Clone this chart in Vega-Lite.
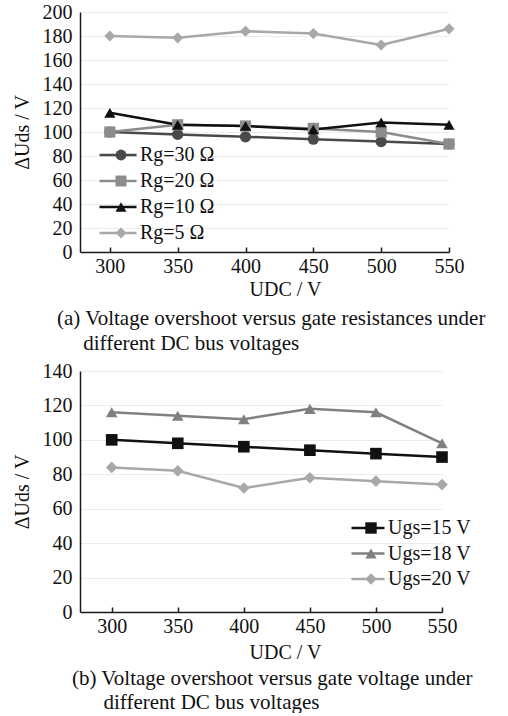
{
  "$schema": "https://vega.github.io/schema/vega-lite/v6.json",
  "background": "#ffffff",
  "padding": {"left": 12, "top": 2, "right": 0, "bottom": 0},
  "datasets": {
    "gateResistance": [
      {"series": "Rg=30 Ω", "Udc": 300, "dU": 100},
      {"series": "Rg=30 Ω", "Udc": 350, "dU": 98},
      {"series": "Rg=30 Ω", "Udc": 400, "dU": 96},
      {"series": "Rg=30 Ω", "Udc": 450, "dU": 94},
      {"series": "Rg=30 Ω", "Udc": 500, "dU": 92},
      {"series": "Rg=30 Ω", "Udc": 550, "dU": 90},
      {"series": "Rg=20 Ω", "Udc": 300, "dU": 100},
      {"series": "Rg=20 Ω", "Udc": 350, "dU": 106},
      {"series": "Rg=20 Ω", "Udc": 400, "dU": 105},
      {"series": "Rg=20 Ω", "Udc": 450, "dU": 103},
      {"series": "Rg=20 Ω", "Udc": 500, "dU": 100},
      {"series": "Rg=20 Ω", "Udc": 550, "dU": 90},
      {"series": "Rg=10 Ω", "Udc": 300, "dU": 116},
      {"series": "Rg=10 Ω", "Udc": 350, "dU": 106},
      {"series": "Rg=10 Ω", "Udc": 400, "dU": 105},
      {"series": "Rg=10 Ω", "Udc": 450, "dU": 102},
      {"series": "Rg=10 Ω", "Udc": 500, "dU": 108},
      {"series": "Rg=10 Ω", "Udc": 550, "dU": 106},
      {"series": "Rg=5 Ω", "Udc": 300, "dU": 180},
      {"series": "Rg=5 Ω", "Udc": 350, "dU": 178.5},
      {"series": "Rg=5 Ω", "Udc": 400, "dU": 184},
      {"series": "Rg=5 Ω", "Udc": 450, "dU": 182},
      {"series": "Rg=5 Ω", "Udc": 500, "dU": 172.5},
      {"series": "Rg=5 Ω", "Udc": 550, "dU": 186}
    ],
    "gateVoltage": [
      {"series": "Ugs=15 V", "Udc": 300, "dU": 100},
      {"series": "Ugs=15 V", "Udc": 350, "dU": 98},
      {"series": "Ugs=15 V", "Udc": 400, "dU": 96},
      {"series": "Ugs=15 V", "Udc": 450, "dU": 94},
      {"series": "Ugs=15 V", "Udc": 500, "dU": 92},
      {"series": "Ugs=15 V", "Udc": 550, "dU": 90},
      {"series": "Ugs=18 V", "Udc": 300, "dU": 116},
      {"series": "Ugs=18 V", "Udc": 350, "dU": 114},
      {"series": "Ugs=18 V", "Udc": 400, "dU": 112},
      {"series": "Ugs=18 V", "Udc": 450, "dU": 118},
      {"series": "Ugs=18 V", "Udc": 500, "dU": 116},
      {"series": "Ugs=18 V", "Udc": 550, "dU": 98},
      {"series": "Ugs=20 V", "Udc": 300, "dU": 84},
      {"series": "Ugs=20 V", "Udc": 350, "dU": 82},
      {"series": "Ugs=20 V", "Udc": 400, "dU": 72},
      {"series": "Ugs=20 V", "Udc": 450, "dU": 78},
      {"series": "Ugs=20 V", "Udc": 500, "dU": 76},
      {"series": "Ugs=20 V", "Udc": 550, "dU": 74}
    ]
  },
  "vconcat": [
    {
      "width": 369,
      "height": 240,
      "data": {"name": "gateResistance"},
      "title": {
        "text": ["(a) Voltage overshoot versus gate resistances under", "\u200b\u00a0\u00a0\u00a0\u00a0\u00a0different DC bus voltages"],
        "orient": "bottom", "anchor": "start", "frame": "group", "dx": -23, "offset": 8.5
      },
      "encoding": {
        "x": {"field": "Udc", "type": "quantitative", "scale": {"domain": [278, 550], "nice": false, "zero": false},
              "axis": {"title": "UDC / V", "values": [300, 350, 400, 450, 500, 550], "format": "d", "grid": false, "titleX": 205}},
        "y": {"field": "dU", "type": "quantitative", "scale": {"domain": [0, 200], "nice": false},
              "axis": {"title": "ΔUds / V", "values": [0, 20, 40, 60, 80, 100, 120, 140, 160, 180, 200], "grid": true}}
      },
      "layer": [
        {
          "mark": {"type": "line", "strokeWidth": 2.5},
          "encoding": {
            "stroke": {"field": "series", "type": "nominal", "sort": ["Rg=30 Ω", "Rg=20 Ω", "Rg=10 Ω", "Rg=5 Ω"],
              "scale": {"range": ["#4a4a4a", "#8c8c8c", "#111111", "#a8a8a8"]},
              "legend": {"orient": "none", "legendX": 18, "legendY": 132, "symbolType": "stroke", "symbolSize": 1369, "symbolStrokeWidth": 2.5, "labelOffset": 2, "rowPadding": 4}}
          }
        },
        {
          "mark": {"type": "point", "filled": true, "opacity": 1, "size": 125},
          "encoding": {
            "color": {"field": "series", "type": "nominal",
              "scale": {"domain": ["Rg=30 Ω", "Rg=20 Ω", "Rg=10 Ω", "Rg=5 Ω"], "range": ["#4a4a4a", "#8c8c8c", "#111111", "#a8a8a8"]},
              "legend": {"orient": "none", "legendX": 31, "legendY": 132, "symbolSize": 120, "labelExpr": "''", "symbolStrokeWidth": 0, "rowPadding": 4}},
            "shape": {"field": "series", "type": "nominal",
              "scale": {"domain": ["Rg=30 Ω", "Rg=20 Ω", "Rg=10 Ω", "Rg=5 Ω"], "range": ["circle", "square", "triangle-up", "diamond"]},
              "legend": {"orient": "none", "legendX": 31, "legendY": 132, "symbolSize": 120, "labelExpr": "''", "symbolStrokeWidth": 0, "rowPadding": 4}}
          }
        }
      ]
    },
    {
      "width": 362,
      "height": 241,
      "data": {"name": "gateVoltage"},
      "title": {
        "text": ["(b) Voltage overshoot versus gate voltage under", "\u200b\u00a0\u00a0\u00a0\u00a0\u00a0\u00a0different DC bus voltages"],
        "orient": "bottom", "anchor": "start", "frame": "group", "dx": -8, "offset": 6, "lineHeight": 24
      },
      "encoding": {
        "x": {"field": "Udc", "type": "quantitative", "scale": {"domain": [276, 550], "nice": false, "zero": false},
              "axis": {"title": "UDC / V", "titlePadding": 6, "values": [300, 350, 400, 450, 500, 550], "format": "d", "grid": false, "titleX": 205}},
        "y": {"field": "dU", "type": "quantitative", "scale": {"domain": [0, 140], "nice": false},
              "axis": {"title": "ΔUds / V", "values": [0, 20, 40, 60, 80, 100, 120, 140], "grid": true}}
      },
      "layer": [
        {
          "mark": {"type": "line", "strokeWidth": 2.5},
          "encoding": {
            "stroke": {"field": "series", "type": "nominal", "sort": ["Ugs=15 V", "Ugs=18 V", "Ugs=20 V"],
              "scale": {"range": ["#111111", "#808080", "#a8a8a8"]},
              "legend": {"orient": "none", "legendX": 270, "legendY": 146, "symbolType": "stroke", "symbolSize": 1089, "symbolStrokeWidth": 2.5, "labelOffset": 2}}
          }
        },
        {
          "mark": {"type": "point", "filled": true, "opacity": 1, "size": 135},
          "encoding": {
            "color": {"field": "series", "type": "nominal",
              "scale": {"domain": ["Ugs=15 V", "Ugs=18 V", "Ugs=20 V"], "range": ["#111111", "#808080", "#a8a8a8"]},
              "legend": {"orient": "none", "legendX": 281, "legendY": 146, "symbolSize": 130, "labelExpr": "''", "symbolStrokeWidth": 0}},
            "shape": {"field": "series", "type": "nominal",
              "scale": {"domain": ["Ugs=15 V", "Ugs=18 V", "Ugs=20 V"], "range": ["square", "triangle-up", "diamond"]},
              "legend": {"orient": "none", "legendX": 281, "legendY": 146, "symbolSize": 130, "labelExpr": "''", "symbolStrokeWidth": 0}}
          }
        }
      ]
    }
  ],
  "spacing": 7,
  "resolve": {
    "scale": {"x": "independent", "y": "independent", "color": "independent", "stroke": "independent", "shape": "independent"},
    "legend": {"color": "independent", "stroke": "independent", "shape": "independent"}
  },
  "config": {
    "font": "Liberation Serif",
    "view": {"stroke": null},
    "axis": {
      "labelFont": "Liberation Serif", "labelFontSize": 20, "labelColor": "#111111",
      "titleFont": "Liberation Serif", "titleFontSize": 20, "titleFontWeight": "normal", "titleColor": "#111111",
      "domainColor": "#1a1a1a", "domainWidth": 1.5, "gridColor": "#ececec", "gridWidth": 1
    },
    "axisX": {"tickSize": -5, "tickColor": "#1a1a1a", "tickWidth": 1.5, "labelPadding": 9, "titlePadding": 3, "labelFlush": false},
    "axisY": {"ticks": false, "tickSize": 0, "labelPadding": 8, "titlePadding": 10},
    "legend": {
      "title": null, "padding": 0, "labelFont": "Liberation Serif", "labelFontSize": 20, "labelColor": "#111111",
      "clipHeight": 22, "rowPadding": 3.5, "labelLimit": 300
    },
    "title": {"font": "Liberation Serif", "fontSize": 21, "fontWeight": "normal", "color": "#111111", "lineHeight": 25, "align": "left"}
  }
}
